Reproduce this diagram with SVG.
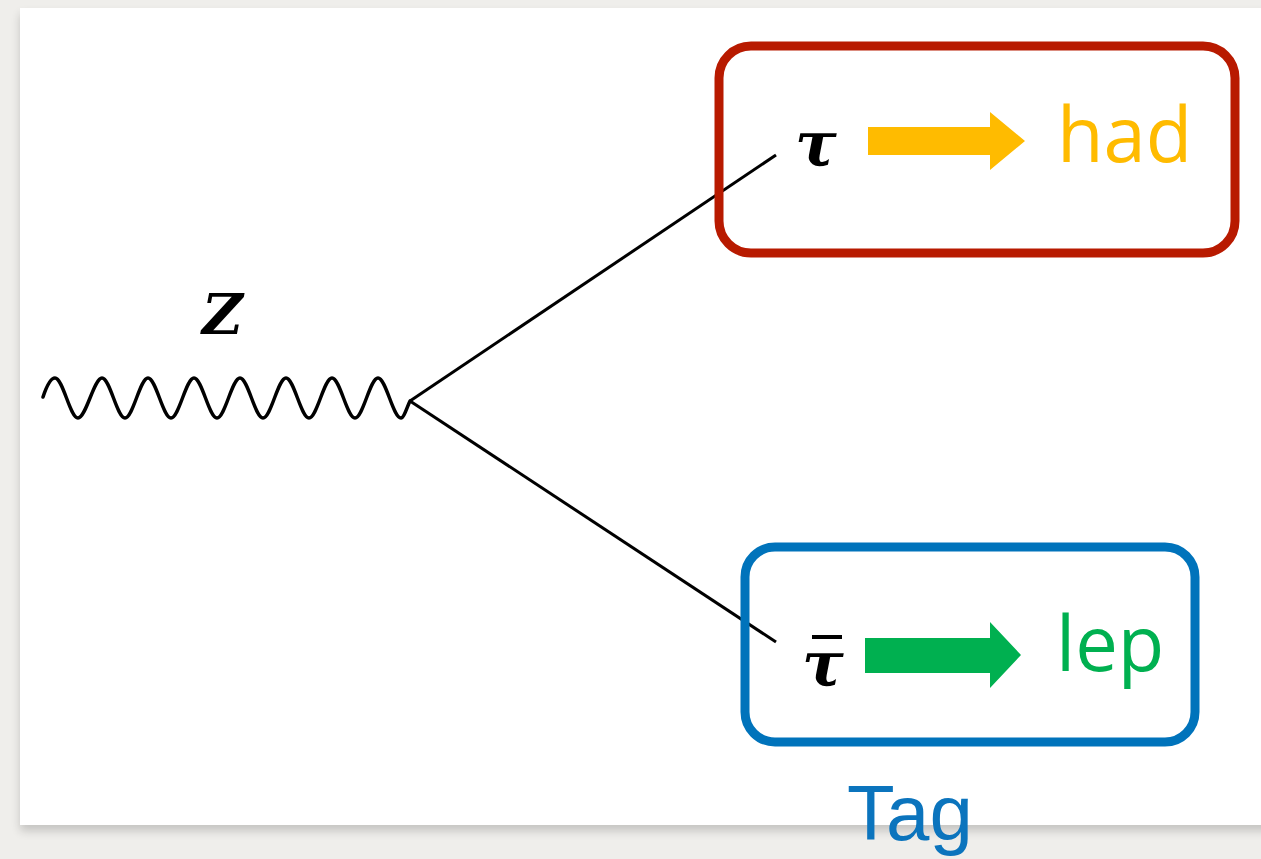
<svg xmlns="http://www.w3.org/2000/svg" width="1261" height="859" viewBox="0 0 1261 859">
  <defs>
    <filter id="cardShadow" x="-5%" y="-5%" width="110%" height="110%">
      <feGaussianBlur in="SourceAlpha" stdDeviation="5"/>
      <feOffset dx="0" dy="6" result="b"/>
      <feComponentTransfer><feFuncA type="linear" slope="0.18"/></feComponentTransfer>
      <feMerge><feMergeNode/><feMergeNode in="SourceGraphic"/></feMerge>
    </filter>
  </defs>
  <style>
    .line { fill: none; stroke: #000; stroke-width: 3; }
    .wave { fill: none; stroke: #000; stroke-width: 3.5; stroke-linecap: round; }
    .math { font-family: "DejaVu Serif", "Liberation Serif", serif; font-style: italic; font-weight: bold; fill: #000; }
    .label { font-family: "Open Sans", "Liberation Sans", sans-serif; }
    .box { fill: none; stroke-width: 9; }
  </style>

  <!-- page background and card -->
  <rect x="0" y="0" width="1261" height="859" fill="#efeeeb"/>
  <rect x="20" y="8" width="1261" height="817" fill="#ffffff" filter="url(#cardShadow)"/>

  <!-- propagators -->
  <g id="connectors">
    <path id="z-boson" class="wave" d="M43,397 C47,385 51,378 55,378 C63,378 70,418 78,418 C86,418 94,378 102,378 C110,378 117,418 125,418 C133,418 140,378 148,378 C156,378 163,418 171,418 C179,418 186,378 194,378 C202,378 209,418 217,418 C225,418 232,378 240,378 C248,378 255,418 263,418 C271,418 278,378 286,378 C294,378 301,418 309,418 C317,418 324,378 332,378 C340,378 347,418 355,418 C363,418 370,378 378,378 C386,378 393,418 401,418 C404,418 407,407 410,401"/>
    <line id="tau-line" class="line" x1="410" y1="401" x2="776" y2="155"/>
    <line id="taubar-line" class="line" x1="410" y1="401" x2="776" y2="642"/>
  </g>

  <g id="z-label">
    <text class="math" x="202" y="334" font-size="56">Z</text>
  </g>

  <g id="tau-had">
    <rect class="box" x="719" y="46" width="516" height="207" rx="32" stroke="#b81a00"/>
    <text class="math" x="795" y="165" font-size="62">τ</text>
    <polygon points="868,127 990,127 990,112 1025,141 990,170 990,155 868,155" fill="#ffbb00"/>
    <text class="label" x="1057" y="162" font-size="76" fill="#ffbb00">had</text>
  </g>

  <g id="taubar-lep">
    <rect class="box" x="745" y="547" width="450" height="195" rx="30" stroke="#0073bb"/>
    <text class="math" x="802" y="685" font-size="62">τ</text>
    <rect x="812" y="635" width="30" height="4" fill="#000"/>
    <polygon points="865,638 990,638 990,622 1021,655 990,688 990,673 865,673" fill="#00b050"/>
    <text class="label" x="1056" y="671" font-size="76" fill="#00b050">lep</text>
  </g>

  <g id="tag-label">
    <text x="847" y="840" font-family="Liberation Sans, Arial, sans-serif" font-size="78" fill="#0b74bd">Tag</text>
  </g>
</svg>
